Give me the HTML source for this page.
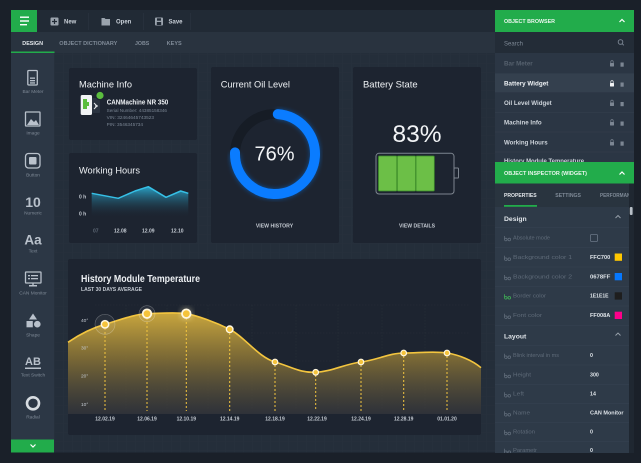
<!DOCTYPE html>
<html><head><meta charset="utf-8">
<style>
html,body{margin:0;padding:0;background:#1a2029;width:641px;height:463px;overflow:hidden}
svg{display:block;font-family:"Liberation Sans",sans-serif}
</style></head><body>
<svg width="641" height="463" viewBox="0 0 641 463" xmlns="http://www.w3.org/2000/svg">
<defs>
<linearGradient id="gold" x1="0" y1="0" x2="0" y2="1">
<stop offset="0" stop-color="#d2ad3e" stop-opacity="0.95"/>
<stop offset="0.45" stop-color="#8a7436" stop-opacity="0.85"/>
<stop offset="1" stop-color="#3a3b3f" stop-opacity="0.6"/>
</linearGradient>
<linearGradient id="cyan" x1="0" y1="0" x2="0" y2="1">
<stop offset="0" stop-color="#2aa9d0" stop-opacity="0.95"/>
<stop offset="1" stop-color="#1d2430" stop-opacity="0"/>
</linearGradient>
<filter id="blur2"><feGaussianBlur stdDeviation="2.5"/></filter>
<clipPath id="tabclip"><rect x="495" y="183" width="134" height="25"/></clipPath>
<pattern id="grid" width="9" height="9" patternUnits="userSpaceOnUse">
<path d="M9 0H0V9" fill="none" stroke="#ffffff" stroke-opacity="0.025" stroke-width="0.6"/>
</pattern>
</defs>

<rect width="641" height="463" fill="#1a2029"/>

<!-- toolbar -->
<rect x="11" y="10" width="484" height="22" fill="#212a35"/>
<rect x="11" y="10" width="26" height="22" fill="#22ac4b"/>
<rect x="20" y="16.5" width="9" height="1.4" fill="#fff"/>
<rect x="20" y="20.3" width="9" height="1.4" fill="#fff"/>
<rect x="20" y="24" width="7" height="1.4" fill="#fff"/>
<rect x="50.5" y="17.5" width="8" height="8" rx="1" fill="#9aa3ad"/>
<path d="M54.5 19v5M52 21.5h5" stroke="#212a35" stroke-width="1.2"/>
<text x="64" y="23.5" font-size="6" font-weight="bold" fill="#c9d0d8">New</text>
<rect x="88" y="13" width="0.6" height="17" fill="#2c3642"/>
<path d="M101.5 18h3l1 1h4.5v6.5h-8.5z" fill="#9aa3ad"/>
<text x="116" y="23.5" font-size="6" font-weight="bold" fill="#c9d0d8">Open</text>
<rect x="143" y="13" width="0.6" height="17" fill="#2c3642"/>
<rect x="155" y="17.5" width="8" height="8" rx="1" fill="#9aa3ad"/>
<rect x="157" y="18.3" width="4" height="2.4" fill="#212a35"/>
<rect x="156.8" y="22" width="4.4" height="3" fill="#212a35"/>
<text x="168.5" y="23.5" font-size="6" font-weight="bold" fill="#c9d0d8">Save</text>
<rect x="190" y="13" width="0.6" height="17" fill="#2c3642"/>

<!-- tabs row -->
<rect x="11" y="32" width="484" height="21" fill="#29333f"/>
<text x="22.3" y="45" font-size="5.4" font-weight="bold" fill="#e3e7eb" textLength="20.7" lengthAdjust="spacingAndGlyphs">DESIGN</text>
<text x="59.3" y="45" font-size="5.4" font-weight="bold" fill="#7f8a97" textLength="58" lengthAdjust="spacingAndGlyphs">OBJECT DICTIONARY</text>
<text x="135" y="45" font-size="5.4" font-weight="bold" fill="#7f8a97" textLength="14.3" lengthAdjust="spacingAndGlyphs">JOBS</text>
<text x="166.7" y="45" font-size="5.4" font-weight="bold" fill="#7f8a97" textLength="15" lengthAdjust="spacingAndGlyphs">KEYS</text>
<rect x="11" y="51.5" width="43.5" height="1.8" fill="#22ac4b"/>

<!-- content -->
<rect x="54" y="53" width="441" height="399.5" fill="#242e3a"/>
<rect x="54" y="53" width="441" height="399.5" fill="url(#grid)"/>

<!-- sidebar -->
<rect x="11" y="53" width="43" height="387" fill="#2c3745"/>
<rect x="11" y="439.5" width="43" height="13" fill="#22ac4b"/>
<path d="M30.5 444.5l2.5 2.5 2.5-2.5" fill="none" stroke="#fff" stroke-width="1.2"/>
<g fill="none" stroke="#b9c1cb" stroke-width="1.3">
<rect x="27.8" y="70.5" width="9.5" height="14.5" rx="1"/>
<rect x="25.5" y="112" width="14.5" height="14" rx="0.5"/>
<rect x="25.5" y="153.5" width="14.5" height="14.5" rx="3"/>
<rect x="25.5" y="272" width="15.5" height="11" rx="0.5"/>
</g>
<g fill="#b9c1cb">
<rect x="30" y="77.5" width="5" height="1.3"/><rect x="30" y="80" width="5" height="1.3"/><rect x="30" y="82.3" width="5" height="1.3"/>
<path d="M27 125l4-6 3 3 2-2 3 5z"/>
<rect x="29" y="157" width="7.5" height="7.5" rx="1"/>
<rect x="28" y="275" width="2" height="1.3"/><rect x="31" y="275" width="7" height="1.3"/>
<rect x="28" y="278" width="2" height="1.3"/><rect x="31" y="278" width="7" height="1.3"/>
<rect x="29" y="285" width="8" height="1.5"/><rect x="32.3" y="283" width="1.4" height="2.5"/>
<path d="M33 313.5l4 6h-8z"/>
<rect x="26.5" y="321" width="6.3" height="6.3"/>
<circle cx="37.3" cy="324.2" r="3.3"/>
<rect x="25" y="367.5" width="16" height="1.5"/>
</g>
<circle cx="33" cy="403.3" r="6" fill="none" stroke="#d7dce1" stroke-width="2.6"/>
<circle cx="34" cy="402.5" r="3" fill="none" stroke="#2c3745" stroke-width="1.2"/>
<text x="33" y="207" font-size="14" font-weight="bold" fill="#b9c1cb" text-anchor="middle">10</text>
<text x="33" y="244.5" font-size="13.5" font-weight="bold" fill="#b9c1cb" text-anchor="middle">Aa</text>
<text x="33" y="365" font-size="11" font-weight="bold" fill="#b9c1cb" text-anchor="middle">AB</text>
<g font-size="4.8" fill="#7e8996" text-anchor="middle">
<text x="33" y="93">Bar Meter</text>
<text x="33" y="134.5">Image</text>
<text x="33" y="176.5">Button</text>
<text x="33" y="214.5">Numeric</text>
<text x="33" y="252.5">Text</text>
<text x="33" y="294.5">CAN Monitor</text>
<text x="33" y="336.5">Shape</text>
<text x="33" y="376.5">Text Switch</text>
<text x="33" y="418.5">Radial</text>
</g>

<!-- cards -->
<g fill="#1d2430">
<rect x="69" y="68" width="128" height="72" rx="2"/>
<rect x="69" y="153" width="128" height="90" rx="2"/>
<rect x="211" y="67" width="128" height="176" rx="2"/>
<rect x="353" y="67" width="128" height="176" rx="2"/>
<rect x="68" y="259" width="413" height="176" rx="2"/>
</g>

<!-- Machine info -->
<text x="79" y="87.5" font-size="9.5" fill="#eef1f4" textLength="53" lengthAdjust="spacingAndGlyphs">Machine Info</text>
<rect x="92" y="98" width="8" height="15" rx="1" fill="#2a3340"/>
<rect x="80.7" y="95" width="11.3" height="20" rx="1.5" fill="#f2f4f5"/>
<path d="M83 99h4v3h2v4h-2v3h-4z" fill="#5bbd3e"/>
<path d="M94 103l3 3-3 3M95 106h3" stroke="#e6e9ec" stroke-width="1" fill="none"/>
<circle cx="100" cy="95.5" r="4.8" fill="#1d2430"/>
<circle cx="100" cy="95.5" r="3.6" fill="#5bbd3e"/>
<text x="106.7" y="104.5" font-size="7" font-weight="bold" fill="#eef1f4" textLength="61.6" lengthAdjust="spacingAndGlyphs">CANMachine NR 350</text>
<g font-size="4.5" fill="#7b8694">
<text x="106.7" y="112" textLength="60.3" lengthAdjust="spacingAndGlyphs">Serial Number: 44385158346</text>
<text x="106.7" y="119" textLength="47.3" lengthAdjust="spacingAndGlyphs">VIN: 32464645743523</text>
<text x="106.7" y="126" textLength="36.3" lengthAdjust="spacingAndGlyphs">PIN: 3546345734</text>
</g>

<!-- Working hours -->
<text x="79" y="173.5" font-size="9.5" fill="#eef1f4" textLength="61" lengthAdjust="spacingAndGlyphs">Working Hours</text>
<path d="M91.7 193.3L118.3 198.3 135 191 148.3 186.7 166 197.3 180.7 191 188.3 193.3V218H91.7Z" fill="url(#cyan)"/>
<path d="M91.7 193.3L118.3 198.3 135 191 148.3 186.7 166 197.3 180.7 191 188.3 193.3" fill="none" stroke="#36c0e6" stroke-width="1.5" stroke-linejoin="round"/>
<g font-size="5" font-weight="bold" fill="#c4cad2">
<text x="79" y="198.5">0 h</text>
<text x="79" y="215.5">0 h</text>
<text x="114" y="232.5">12.08</text>
<text x="142" y="232.5">12.09</text>
<text x="171" y="232.5">12.10</text>
</g>
<text x="93" y="232.5" font-size="5" font-weight="bold" fill="#5f6a77">07</text>

<!-- Oil -->
<text x="220.7" y="87.5" font-size="9.5" fill="#eef1f4" textLength="69.3" lengthAdjust="spacingAndGlyphs">Current Oil Level</text>
<circle cx="275" cy="154" r="40" fill="none" stroke="#161c25" stroke-width="10"/>
<circle cx="275" cy="154" r="40" fill="none" stroke="#0a7cff" stroke-width="10" stroke-opacity="0.5" stroke-dasharray="187 300" transform="rotate(-88 275 154)" filter="url(#blur2)"/>
<circle cx="275" cy="154" r="40" fill="none" stroke="#0a7cff" stroke-width="10" stroke-linecap="round" stroke-dasharray="187 300" transform="rotate(-86 275 154)"/>
<text x="274.5" y="160.5" font-size="20" fill="#f2f4f6" text-anchor="middle">76%</text>
<text x="274.5" y="227.5" font-size="5" font-weight="bold" fill="#c4cad2" text-anchor="middle" textLength="37.3" lengthAdjust="spacingAndGlyphs">VIEW HISTORY</text>

<!-- Battery -->
<text x="363" y="87.5" font-size="9.5" fill="#eef1f4" textLength="54.7" lengthAdjust="spacingAndGlyphs">Battery State</text>
<text x="417" y="142" font-size="24.5" fill="#f2f4f6" text-anchor="middle">83%</text>
<rect x="376" y="153.3" width="78" height="40.7" rx="3" fill="none" stroke="#7d858f" stroke-width="1"/>
<rect x="454" y="168" width="4.5" height="10" rx="0.8" fill="none" stroke="#7d858f" stroke-width="1"/>
<g fill="#6cbf47" stroke="#3d8c2a" stroke-width="0.8">
<rect x="378.5" y="156" width="18.3" height="35" rx="1"/>
<rect x="397.3" y="156" width="18.3" height="35" rx="1"/>
<rect x="416" y="156" width="18.3" height="35" rx="1"/>
</g>
<text x="417" y="227.5" font-size="5" font-weight="bold" fill="#c4cad2" text-anchor="middle" textLength="36" lengthAdjust="spacingAndGlyphs">VIEW DETAILS</text>

<!-- History -->
<text x="81" y="282" font-size="10.5" font-weight="bold" fill="#eef1f4" textLength="119" lengthAdjust="spacingAndGlyphs">History Module Temperature</text>
<text x="81" y="291" font-size="5" font-weight="bold" fill="#c4cad2" textLength="61" lengthAdjust="spacingAndGlyphs">LAST 30 DAYS AVERAGE</text>
<g stroke="#ffffff" stroke-opacity="0.05" stroke-width="0.6" stroke-dasharray="1.5 1.5">
<path d="M95 305H470M95 333H470M95 361H470M95 389H470"/>
<path d="M126 305V410M167 305V410M208 305V410M252 305V410M296 305V410M338 305V410M382 305V410M425 305V410"/>
</g>
<path d="M68 342.3C80 334 92 328 105 324.3S135 314 147 313.7S176 312 186.3 313.7S215 322 229.7 329.3S258 357 275 362S300 373 315.7 372.3S345 364 361 362S390 353 403.7 353S435 351 447 353S472 360 481 367.7V414H68Z" fill="url(#gold)"/>
<path d="M68 342.3C80 334 92 328 105 324.3S135 314 147 313.7S176 312 186.3 313.7S215 322 229.7 329.3S258 357 275 362S300 373 315.7 372.3S345 364 361 362S390 353 403.7 353S435 351 447 353S472 360 481 367.7" fill="none" stroke="#f3c53f" stroke-width="1.6"/>
<g stroke="#f3c53f" stroke-width="1" stroke-dasharray="2 2">
<path d="M105 328V411M147 318V411M186.3 318V411M229.7 333V411M275 365V411M315.7 375V411M361 365V411M403.7 356V411M447 356V411"/>
</g>
<g font-size="4.8" fill="#c4cad2">
<text x="81" y="322">40°</text>
<text x="81" y="349.5">30°</text>
<text x="81" y="377.5">20°</text>
<text x="81" y="406">10°</text>
</g>
<g font-size="5" font-weight="bold" fill="#c4cad2" text-anchor="middle">
<text x="105" y="420.5">12.02.19</text>
<text x="147" y="420.5">12.06.19</text>
<text x="186.3" y="420.5">12.10.19</text>
<text x="229.7" y="420.5">12.14.19</text>
<text x="275" y="420.5">12.18.19</text>
<text x="317" y="420.5">12.22.19</text>
<text x="361" y="420.5">12.24.19</text>
<text x="403.7" y="420.5">12.28.19</text>
<text x="447" y="420.5">01.01.20</text>
</g>
<circle cx="105" cy="324.3" r="10" fill="#ffffff" fill-opacity="0.05" stroke="#ffffff" stroke-opacity="0.3" stroke-width="0.6"/>
<circle cx="147" cy="313.7" r="8" fill="#ffffff" fill-opacity="0.06" stroke="#ffffff" stroke-opacity="0.3" stroke-width="0.6"/>
<circle cx="186.3" cy="313.7" r="7" fill="#fff3c0" fill-opacity="0.25" filter="url(#blur2)"/>
<g fill="#f5c33b" stroke="#fff7e0">
<circle cx="105" cy="324.3" r="3.7" stroke-width="1.5"/>
<circle cx="147" cy="313.7" r="4.3" stroke-width="1.8"/>
<circle cx="186.3" cy="313.7" r="4.3" stroke-width="1.8"/>
<circle cx="229.7" cy="329.3" r="3.3" stroke-width="1.4"/>
<circle cx="275" cy="362" r="2.8" stroke-width="1.2"/>
<circle cx="315.7" cy="372.3" r="2.8" stroke-width="1.2"/>
<circle cx="361" cy="362" r="2.8" stroke-width="1.2"/>
<circle cx="403.7" cy="353" r="2.8" stroke-width="1.2"/>
<circle cx="447" cy="353" r="2.8" stroke-width="1.2"/>
</g>

<!-- right panel: object browser -->
<rect x="495" y="10" width="139" height="22" fill="#22ac4b"/>
<text x="504" y="23" font-size="5.3" font-weight="bold" fill="#eaf6ee" textLength="51" lengthAdjust="spacingAndGlyphs">OBJECT BROWSER</text>
<path d="M619.5 22l2.5-2.5 2.5 2.5" fill="none" stroke="#fff" stroke-width="1.2"/>
<rect x="495" y="32" width="139" height="21" fill="#232c37"/>
<text x="504" y="45.5" font-size="6" fill="#7e8996">Search</text>
<circle cx="620.5" cy="42" r="2.3" fill="none" stroke="#7e8996" stroke-width="0.9"/>
<path d="M622.2 43.7l1.6 1.6" stroke="#7e8996" stroke-width="0.9"/>
<rect x="495" y="53" width="139" height="109" fill="#2b3644"/>
<rect x="495" y="73.3" width="139" height="19" fill="#34404e"/>
<g stroke="#36414f" stroke-width="0.6">
<path d="M495 112.5H634M495 132H634M495 152H634"/>
</g>
<g font-size="6.4" font-weight="bold">
<text x="504" y="65.5" fill="#56616e" textLength="28.7" lengthAdjust="spacingAndGlyphs">Bar Meter</text>
<text x="504" y="85.5" fill="#eef1f4" textLength="44.3" lengthAdjust="spacingAndGlyphs">Battery Widget</text>
<text x="504" y="105" fill="#cdd3da" textLength="47.7" lengthAdjust="spacingAndGlyphs">Oil Level Widget</text>
<text x="504" y="124.5" fill="#cdd3da" textLength="37.7" lengthAdjust="spacingAndGlyphs">Machine Info</text>
<text x="504" y="144.5" fill="#cdd3da" textLength="43.7" lengthAdjust="spacingAndGlyphs">Working Hours</text>
<text x="504" y="163" fill="#cdd3da" textLength="80" lengthAdjust="spacingAndGlyphs">History Module Temperature</text>
</g>
<g fill="#7c8693">
<rect x="610" y="63" width="4" height="3.5" rx="0.5"/><rect x="620.5" y="62.5" width="3.2" height="4.2"/>
<rect x="610" y="102.5" width="4" height="3.5" rx="0.5"/><rect x="620.5" y="102" width="3.2" height="4.2"/>
<rect x="610" y="122" width="4" height="3.5" rx="0.5"/><rect x="620.5" y="121.5" width="3.2" height="4.2"/>
<rect x="610" y="142" width="4" height="3.5" rx="0.5"/><rect x="620.5" y="141.5" width="3.2" height="4.2"/>
</g>
<g fill="none" stroke="#7c8693" stroke-width="0.7">
<path d="M610.8 63v-1.2a1.2 1.2 0 0 1 2.4 0V63"/>
<path d="M610.8 102.5v-1.2a1.2 1.2 0 0 1 2.4 0v1.2"/>
<path d="M610.8 122v-1.2a1.2 1.2 0 0 1 2.4 0v1.2"/>
<path d="M610.8 142v-1.2a1.2 1.2 0 0 1 2.4 0v1.2"/>
</g>
<rect x="610" y="83" width="4" height="3.5" rx="0.5" fill="#f2f4f6"/>
<path d="M610.8 83v-1.2a1.2 1.2 0 0 1 2.4 0V83" fill="none" stroke="#f2f4f6" stroke-width="0.7"/>
<rect x="620.5" y="82.5" width="3.2" height="4.2" fill="#7c8693"/>

<!-- object inspector -->
<rect x="495" y="162" width="139" height="21.5" fill="#22ac4b"/>
<text x="504" y="175" font-size="5.3" font-weight="bold" fill="#eaf6ee" textLength="83" lengthAdjust="spacingAndGlyphs">OBJECT INSPECTOR (WIDGET)</text>
<path d="M619.5 174.5l2.5-2.5 2.5 2.5" fill="none" stroke="#fff" stroke-width="1.2"/>
<rect x="495" y="183.5" width="139" height="24" fill="#29343f"/>
<g clip-path="url(#tabclip)">
<text x="504" y="197" font-size="5.3" font-weight="bold" fill="#e3e7eb" textLength="32.7" lengthAdjust="spacingAndGlyphs">PROPERTIES</text>
<text x="555.3" y="197" font-size="5.3" font-weight="bold" fill="#7f8a97" textLength="25.7" lengthAdjust="spacingAndGlyphs">SETTINGS</text>
<text x="600" y="197" font-size="5.3" font-weight="bold" fill="#7f8a97" textLength="37" lengthAdjust="spacingAndGlyphs">PERFORMANCE</text>
</g>
<rect x="504" y="205" width="33" height="1.8" fill="#22ac4b"/>
<rect x="495" y="207" width="134" height="246" fill="#2e3a48"/>
<rect x="629" y="183.5" width="5" height="269.5" fill="#1f2731"/>
<rect x="629.8" y="207" width="2.8" height="8" rx="1" fill="#b8bfc7"/>
<g stroke="#364352" stroke-width="0.6">
<path d="M495 227.5H629M495 247.5H629M495 267H629M495 286.5H629M495 306H629M495 325.5H629M495 345.5H629M495 365H629M495 384.5H629M495 403.5H629M495 422.5H629M495 441.5H629"/>
</g>
<text x="504" y="221" font-size="6.8" font-weight="bold" fill="#dfe4e9">Design</text>
<path d="M615.5 218l2.5-2.5 2.5 2.5" fill="none" stroke="#9aa3ad" stroke-width="0.9"/>
<text x="504" y="338.5" font-size="6.8" font-weight="bold" fill="#dfe4e9">Layout</text>
<path d="M615.5 335.5l2.5-2.5 2.5 2.5" fill="none" stroke="#9aa3ad" stroke-width="0.9"/>
<g fill="none" stroke="#5f6b79" stroke-width="0.8">
<path d="M504.5 236v3.5a1.3 1.3 0 0 0 2.6 0a1.3 1.3 0 0 0-2.6 0M508 239.5a1.3 1.3 0 1 0 2.6 0a1.3 1.3 0 1 0-2.6 0"/>
<path d="M504.5 255.7v3.5a1.3 1.3 0 0 0 2.6 0a1.3 1.3 0 0 0-2.6 0M508 259.2a1.3 1.3 0 1 0 2.6 0a1.3 1.3 0 1 0-2.6 0"/>
<path d="M504.5 275v3.5a1.3 1.3 0 0 0 2.6 0a1.3 1.3 0 0 0-2.6 0M508 278.5a1.3 1.3 0 1 0 2.6 0a1.3 1.3 0 1 0-2.6 0"/>
<path d="M504.5 313.7v3.5a1.3 1.3 0 0 0 2.6 0a1.3 1.3 0 0 0-2.6 0M508 317.2a1.3 1.3 0 1 0 2.6 0a1.3 1.3 0 1 0-2.6 0"/>
<path d="M504.5 353.7v3.5a1.3 1.3 0 0 0 2.6 0a1.3 1.3 0 0 0-2.6 0M508 357.2a1.3 1.3 0 1 0 2.6 0a1.3 1.3 0 1 0-2.6 0"/>
<path d="M504.5 373v3.5a1.3 1.3 0 0 0 2.6 0a1.3 1.3 0 0 0-2.6 0M508 376.5a1.3 1.3 0 1 0 2.6 0a1.3 1.3 0 1 0-2.6 0"/>
<path d="M504.5 392.3v3.5a1.3 1.3 0 0 0 2.6 0a1.3 1.3 0 0 0-2.6 0M508 395.8a1.3 1.3 0 1 0 2.6 0a1.3 1.3 0 1 0-2.6 0"/>
<path d="M504.5 411.3v3.5a1.3 1.3 0 0 0 2.6 0a1.3 1.3 0 0 0-2.6 0M508 414.8a1.3 1.3 0 1 0 2.6 0a1.3 1.3 0 1 0-2.6 0"/>
<path d="M504.5 430v3.5a1.3 1.3 0 0 0 2.6 0a1.3 1.3 0 0 0-2.6 0M508 433.5a1.3 1.3 0 1 0 2.6 0a1.3 1.3 0 1 0-2.6 0"/>
<path d="M504.5 448.7v3.5a1.3 1.3 0 0 0 2.6 0a1.3 1.3 0 0 0-2.6 0M508 452.2a1.3 1.3 0 1 0 2.6 0a1.3 1.3 0 1 0-2.6 0"/>
</g>
<path d="M504.5 294.3v3.5a1.3 1.3 0 0 0 2.6 0a1.3 1.3 0 0 0-2.6 0M508 297.8a1.3 1.3 0 1 0 2.6 0a1.3 1.3 0 1 0-2.6 0" fill="none" stroke="#3fae55" stroke-width="0.8"/>
<g font-size="5.3" fill="#5f6b79">
<text x="513" y="239.5" textLength="37" lengthAdjust="spacingAndGlyphs">Absolute mode</text>
<text x="513" y="259" textLength="59" lengthAdjust="spacingAndGlyphs">Background color 1</text>
<text x="513" y="278.5" textLength="59" lengthAdjust="spacingAndGlyphs">Background color 2</text>
<text x="513" y="297.5" textLength="33" lengthAdjust="spacingAndGlyphs">Border color</text>
<text x="513" y="317" textLength="29" lengthAdjust="spacingAndGlyphs">Font color</text>
<text x="513" y="357" textLength="46" lengthAdjust="spacingAndGlyphs">Blink interval in ms</text>
<text x="513" y="376.5" textLength="18" lengthAdjust="spacingAndGlyphs">Height</text>
<text x="513" y="395.5" textLength="11" lengthAdjust="spacingAndGlyphs">Left</text>
<text x="513" y="414.5" textLength="17" lengthAdjust="spacingAndGlyphs">Name</text>
<text x="513" y="433.5" textLength="22" lengthAdjust="spacingAndGlyphs">Rotation</text>
<text x="513" y="452" textLength="24" lengthAdjust="spacingAndGlyphs">Parametr</text>
</g>
<rect x="590.5" y="234.5" width="7" height="7" rx="1" fill="none" stroke="#6b7786" stroke-width="0.8"/>
<g font-size="5.3" font-weight="bold" fill="#dfe4e9">
<text x="590" y="259" textLength="20.3" lengthAdjust="spacingAndGlyphs">FFC700</text>
<text x="590" y="278.5" textLength="20.3" lengthAdjust="spacingAndGlyphs">0678FF</text>
<text x="590" y="297.5" textLength="18.5" lengthAdjust="spacingAndGlyphs">1E1E1E</text>
<text x="590" y="317" textLength="20.3" lengthAdjust="spacingAndGlyphs">FF008A</text>
<text x="590" y="357">0</text>
<text x="590" y="376.5">300</text>
<text x="590" y="395.5">14</text>
<text x="590" y="414.5" textLength="33.5" lengthAdjust="spacingAndGlyphs">CAN Monitor</text>
<text x="590" y="433.5">0</text>
<text x="590" y="452">0</text>
</g>
<rect x="614.7" y="253.5" width="7.3" height="7.3" fill="#ffc700"/>
<rect x="614.7" y="273" width="7.3" height="7.3" fill="#0678ff"/>
<rect x="614.7" y="292.3" width="7.3" height="7.3" fill="#1e1e1e"/>
<rect x="614.7" y="311.7" width="7.3" height="7.3" fill="#ff008a"/>
<rect x="495" y="453" width="146" height="10" fill="#1a2029"/>
</svg>
</body></html>
